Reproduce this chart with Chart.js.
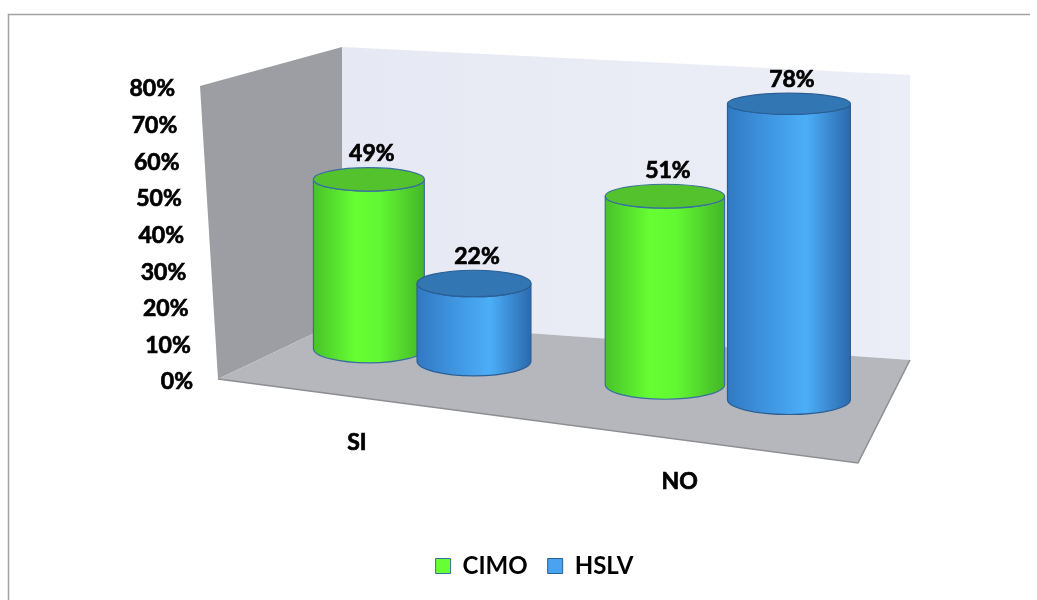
<!DOCTYPE html>
<html>
<head>
<meta charset="utf-8">
<script src="https://cdn.jsdelivr.net/npm/chart.js@4.4.1/dist/chart.umd.min.js"></script>
<style>
  html, body { margin: 0; padding: 0; background: #ffffff; }
  canvas { display: block; }
</style>
</head>
<body>
<canvas id="chart" width="1037" height="600"></canvas>
<script>
// ---- data ----
const categories = ['SI', 'NO'];
const seriesNames = ['CIMO', 'HSLV'];
const cimoValues = [0.49, 0.51];
const hslvValues = [0.22, 0.78];
const axisMin = 0;
const axisMax = 0.8;
const axisStep = 0.1;

// ---- look ----
const FONT = 'Lato, "Open Sans", sans-serif';
const palette = {
  CIMO: {
    legend: '#66FF33', stroke: '#3A6EA0', top: '#53C22D',
    side: [[0, '#49C22A'], [0.38, '#66FF33'], [0.6, '#62F732'], [1, '#44B627']]
  },
  HSLV: {
    legend: '#4AA3EE', stroke: '#2A5F95', top: '#3276B4',
    side: [[0, '#3179C2'], [0.3, '#3E93DE'], [0.64, '#4CAEF8'], [1, '#2B69AD']]
  }
};

// box (walls and floor) in page pixels
const WALL = {
  leftTopFront: [200, 86], leftBotFront: [218, 379],
  backTopLeft: [342, 47], backBotLeft: [342, 320],
  backTopRight: [910, 75], backBotRight: [910, 360],
  floorFrontRight: [858, 463]
};
const LABEL_LINE = { from: [274, 433], to: [874, 505] };

// perspective helpers for the column row
const WARP = 0.00027;
const baseY = sx => 373.5 + 0.1211 * (sx - 574.25);   // centre of a column's base
const fullH = sx => 289.5 + 0.0644 * (sx - 574.25);   // height of a full-scale column
const ryAt = y => 9 + 0.015 * y;                       // ellipse half-height at a given level

function poly(ctx, pts, fill) {
  ctx.beginPath();
  ctx.moveTo(pts[0][0], pts[0][1]);
  for (let i = 1; i < pts.length; i++) ctx.lineTo(pts[i][0], pts[i][1]);
  ctx.closePath();
  ctx.fillStyle = fill;
  ctx.fill();
}

// heavy label text: fill plus a thin outline of the same colour
function boldText(ctx, str, x, y) {
  ctx.fillText(str, x, y);
  ctx.strokeText(str, x, y);
}

function drawCylinder(ctx, cx, yTop, yBot, rx, pal) {
  const ryT = ryAt(yTop), ryB = ryAt(yBot);
  const g = ctx.createLinearGradient(cx - rx, 0, cx + rx, 0);
  pal.side.forEach(([o, c]) => g.addColorStop(o, c));
  ctx.beginPath();
  ctx.moveTo(cx - rx, yTop);
  ctx.lineTo(cx - rx, yBot);
  ctx.ellipse(cx, yBot, rx, ryB, 0, Math.PI, 0, true);
  ctx.lineTo(cx + rx, yTop);
  ctx.ellipse(cx, yTop, rx, ryT, 0, 0, Math.PI, false);
  ctx.closePath();
  ctx.fillStyle = g;
  ctx.fill();
  ctx.strokeStyle = pal.stroke;
  ctx.lineWidth = 1.2;
  ctx.stroke();
  ctx.beginPath();
  ctx.ellipse(cx, yTop, rx, ryT, 0, 0, Math.PI * 2);
  ctx.fillStyle = pal.top;
  ctx.fill();
  ctx.stroke();
}

const scenePlugin = {
  id: 'scene3d',
  beforeDraw(chart) {
    const ctx = chart.ctx;
    ctx.save();
    ctx.strokeStyle = '#A3A3A3';
    ctx.lineWidth = 1.5;
    ctx.beginPath();
    ctx.moveTo(8.5, 600);
    ctx.lineTo(8.5, 14.5);
    ctx.lineTo(1030, 14.5);
    ctx.stroke();
    ctx.restore();
  },
  beforeDatasetsDraw(chart) {
    const ctx = chart.ctx;
    const xs = chart.scales.x, ys = chart.scales.y;
    const area = chart.chartArea;
    const xMid = (area.left + area.right) / 2;
    const warpX = x => { const u = x - xMid; return xMid + u + WARP * u * u; };
    const frac = v => (ys.bottom - ys.getPixelForValue(v)) / (ys.bottom - ys.top);

    ctx.save();
    // walls and floor
    poly(ctx, [WALL.leftTopFront, WALL.backTopLeft, WALL.backBotLeft, WALL.leftBotFront], '#9D9EA4');
    const bg = ctx.createLinearGradient(342, 0, 910, 0);
    bg.addColorStop(0, '#E6E8F3');
    bg.addColorStop(1, '#ECEEF7');
    poly(ctx, [WALL.backTopLeft, WALL.backTopRight, WALL.backBotRight, WALL.backBotLeft], bg);
    poly(ctx, [WALL.backBotLeft, WALL.backBotRight, WALL.floorFrontRight, WALL.leftBotFront], '#B6B7BD');
    ctx.strokeStyle = '#8D8E93';
    ctx.lineWidth = 1.5;
    ctx.beginPath();
    ctx.moveTo(WALL.leftBotFront[0], WALL.leftBotFront[1]);
    ctx.lineTo(WALL.floorFrontRight[0], WALL.floorFrontRight[1]);
    ctx.lineTo(WALL.backBotRight[0], WALL.backBotRight[1]);
    ctx.stroke();

    // value axis labels along the front edge of the side wall
    ctx.font = 'bold 23px ' + FONT;
    ctx.fillStyle = '#000';
    ctx.strokeStyle = '#000';
    ctx.lineWidth = 0.7;
    ctx.textAlign = 'right';
    ctx.textBaseline = 'middle';
    ys.ticks.forEach(t => {
      const f = frac(t.value);
      const ex = WALL.leftBotFront[0] + (WALL.leftTopFront[0] - WALL.leftBotFront[0]) * f;
      const ey = WALL.leftBotFront[1] + (WALL.leftTopFront[1] - WALL.leftBotFront[1]) * f;
      boldText(ctx, Math.round(t.value * 100) + '%', ex - 25, ey + 3);
    });

    // category labels in front of the floor
    ctx.textAlign = 'center';
    const bx0 = WALL.backBotLeft[0], bx1 = WALL.backBotRight[0];
    categories.forEach((c, i) => {
      const sx = warpX(xs.getPixelForValue(i));
      const f = (sx - bx0) / (bx1 - bx0);
      const lx = LABEL_LINE.from[0] + (LABEL_LINE.to[0] - LABEL_LINE.from[0]) * f;
      const ly = LABEL_LINE.from[1] + (LABEL_LINE.to[1] - LABEL_LINE.from[1]) * f;
      boldText(ctx, c, lx, ly);
    });

    // columns, left to right
    const cols = [];
    chart.data.datasets.forEach((ds, di) => {
      const meta = chart.getDatasetMeta(di);
      meta.data.forEach((bar, i) => {
        const v = ds.data[i];
        const sx = warpX(bar.x);
        const rx = (bar.width / 2) * (1 + 0.00025 * (sx - xMid)) + 1;
        const yb = baseY(sx);
        const yt = yb - frac(v) * fullH(sx);
        cols.push({ sx, rx, yb, yt, v, pal: palette[ds.label] });
      });
    });
    cols.sort((a, b) => a.sx - b.sx);
    cols.forEach(c => drawCylinder(ctx, c.sx, c.yt, c.yb, c.rx, c.pal));

    // value labels
    ctx.fillStyle = '#000';
    ctx.strokeStyle = '#000';
    ctx.lineWidth = 0.7;
    ctx.textAlign = 'center';
    ctx.textBaseline = 'middle';
    cols.forEach(c => {
      boldText(ctx, Math.round(c.v * 100) + '%', c.sx + 3, c.yt - ryAt(c.yt) - 14);
    });
    ctx.restore();
    return false;
  }
};

new Chart(document.getElementById('chart'), {
  type: 'bar',
  data: {
    labels: categories,
    datasets: [
      { label: seriesNames[0], data: cimoValues, backgroundColor: palette.CIMO.legend, borderColor: palette.CIMO.stroke, borderWidth: 1 },
      { label: seriesNames[1], data: hslvValues, backgroundColor: palette.HSLV.legend, borderColor: palette.HSLV.stroke, borderWidth: 1 }
    ]
  },
  options: {
    responsive: false,
    animation: false,
    devicePixelRatio: 1,
    layout: { padding: { left: 196.5, right: 164.5, top: 88, bottom: 12 } },
    datasets: { bar: { categoryPercentage: 0.75, barPercentage: 1 } },
    scales: {
      x: { display: false, offset: true },
      y: {
        display: true, min: axisMin, max: axisMax,
        ticks: { display: false, stepSize: axisStep },
        grid: { display: false }, border: { display: false },
        afterFit(s) { s.width = 65; }
      }
    },
    plugins: {
      legend: {
        position: 'bottom',
        labels: {
          font: { family: FONT, size: 24, weight: 'bold' },
          color: '#000', boxWidth: 15, boxHeight: 15, padding: 20
        }
      },
      tooltip: { enabled: false }
    }
  },
  plugins: [scenePlugin]
});
</script>
</body>
</html>
